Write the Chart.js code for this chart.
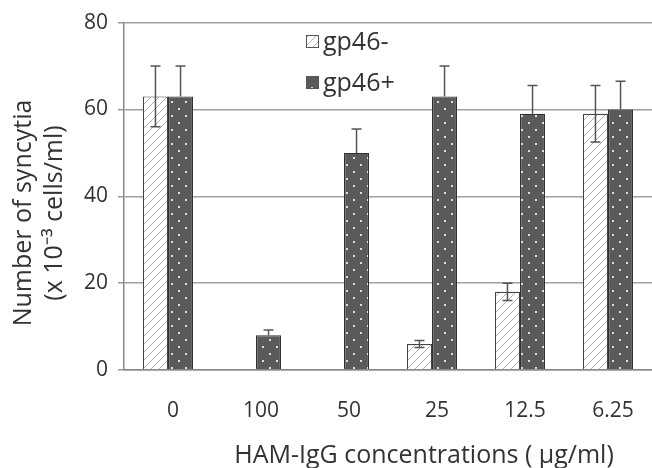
<!DOCTYPE html>
<html>
<head>
<meta charset="utf-8">
<script src="https://cdn.jsdelivr.net/npm/chart.js@4/dist/chart.umd.min.js"></script>
<style>
  html, body { margin: 0; padding: 0; background: #fff; }
</style>
</head>
<body>
<canvas id="chart" width="652" height="468"></canvas>
<script>
// data
const concentrations = ['0', '100', '50', '25', '12.5', '6.25'];
const gpMinus = [63, 0, 0, 6, 18, 59];
const gpMinusErr = [7, 0, 0, 0.8, 2, 6.5];
const gpPlus = [63, 8, 50, 63, 59, 60];
const gpPlusErr = [7, 1.2, 5.5, 7, 6.5, 6.5];
const yTicks = [0, 20, 40, 60, 80];
const xTitle = 'HAM-IgG concentrations ( µg/ml)';
const yTitle = ['Number of syncytia', '(x 10\u207B\u00B3 cells/ml)'];

function hatchPattern() {
  const c = document.createElement('canvas');
  c.width = 8; c.height = 8;
  const g = c.getContext('2d');
  g.fillStyle = '#fff';
  g.fillRect(0, 0, 8, 8);
  g.strokeStyle = '#b0b0b0';
  g.lineWidth = 1;
  g.beginPath();
  g.moveTo(0, 8); g.lineTo(8, 0);
  g.moveTo(-2, 2); g.lineTo(2, -2);
  g.moveTo(6, 10); g.lineTo(10, 6);
  g.stroke();
  return g.createPattern(c, 'repeat');
}

function dotPattern() {
  const c = document.createElement('canvas');
  c.width = 14; c.height = 14;
  const g = c.getContext('2d');
  g.fillStyle = '#5a5a5a';
  g.fillRect(0, 0, 14, 14);
  g.fillStyle = '#dcdcdc';
  g.fillRect(3, 3, 2, 2);
  g.fillRect(10, 10, 2, 2);
  return g.createPattern(c, 'repeat');
}

const hatch = hatchPattern();
const dots = dotPattern();
const errs = [gpMinusErr, gpPlusErr];

const errorBars = {
  id: 'errorBars',
  afterDatasetsDraw(chart) {
    const ctx = chart.ctx;
    const y = chart.scales.y;
    ctx.save();
    ctx.strokeStyle = '#555';
    ctx.lineWidth = 1.5;
    chart.data.datasets.forEach((ds, di) => {
      const meta = chart.getDatasetMeta(di);
      meta.data.forEach((bar, i) => {
        const e = errs[di][i];
        if (!e) return;
        const v = ds.data[i];
        const top = y.getPixelForValue(v + e);
        const bot = di === 0 ? y.getPixelForValue(v - e) : bar.y;
        ctx.beginPath();
        ctx.moveTo(bar.x, top); ctx.lineTo(bar.x, bot);
        ctx.moveTo(bar.x - 5, top); ctx.lineTo(bar.x + 5, top);
        if (di === 0) { ctx.moveTo(bar.x - 5, bot); ctx.lineTo(bar.x + 5, bot); }
        ctx.stroke();
      });
    });
    ctx.restore();
  }
};

// legend inside the plot, plus both axis titles (placed off-centre like the figure)
const extras = {
  id: 'extras',
  afterDraw(chart) {
    const ctx = chart.ctx;
    ctx.save();
    ctx.font = '25px "Open Sans"';
    ctx.textBaseline = 'middle';
    chart.data.datasets.forEach((ds, i) => {
      const yy = 42 + i * 41;
      ctx.fillStyle = ds.backgroundColor;
      ctx.fillRect(306, yy - 7, 13, 13);
      ctx.strokeStyle = '#555';
      ctx.lineWidth = 1;
      ctx.strokeRect(306.5, yy - 6.5, 12, 12);
      ctx.fillStyle = '#333';
      ctx.fillText(ds.label, 323, yy + 1);
    });
    ctx.textAlign = 'center';
    ctx.textBaseline = 'alphabetic';
    ctx.fillText(xTitle, 424, 463);

    ctx.translate(0, 213);
    ctx.rotate(-Math.PI / 2);
    ctx.fillText(yTitle[0], 0, 31);
    ctx.fillText(yTitle[1], 0, 62);
    ctx.restore();
  }
};

new Chart(document.getElementById('chart'), {
  type: 'bar',
  data: {
    labels: concentrations,
    datasets: [
      { label: 'gp46-', data: gpMinus, backgroundColor: hatch, borderColor: '#444', borderWidth: 1.2 },
      { label: 'gp46+', data: gpPlus, backgroundColor: dots, borderColor: '#333', borderWidth: 1.2 }
    ]
  },
  options: {
    responsive: false,
    animation: false,
    devicePixelRatio: 1,
    layout: { padding: { top: 14, right: 0, left: 0, bottom: 0 } },
    categoryPercentage: 0.57,
    barPercentage: 1,
    plugins: { legend: { display: false }, tooltip: { enabled: false } },
    scales: {
      x: {
        grid: { display: false },
        border: { color: '#888', width: 1.5 },
        ticks: { color: '#333', font: { family: 'Open Sans', size: 21 }, padding: 20, labelOffset: 5 },
        afterFit: s => { s.height = 98; }
      },
      y: {
        min: 0,
        max: 80,
        afterBuildTicks: s => { s.ticks = yTicks.map(v => ({ value: v })); },
        grid: { color: '#a0a0a0', lineWidth: 1.5, tickLength: 6, tickColor: '#999' },
        border: { color: '#888', width: 1.5 },
        ticks: { color: '#333', font: { family: 'Open Sans', size: 21 }, padding: 10 },
        afterFit: s => { s.width = 124; }
      }
    }
  },
  plugins: [errorBars, extras]
});
</script>
</body>
</html>
